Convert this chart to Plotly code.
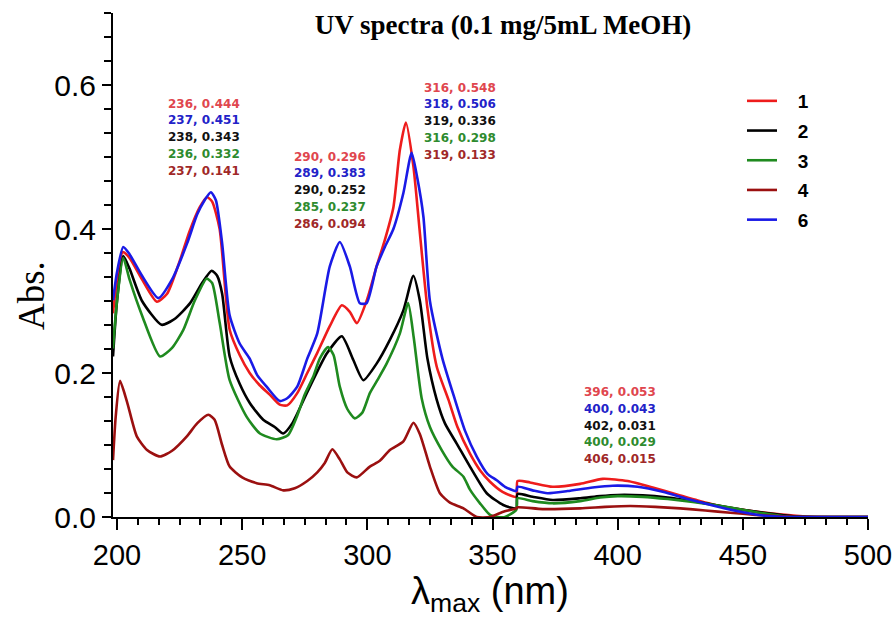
import plotly.graph_objects as go

# ---------------- data ----------------
wl_1 = [198.4, 200, 202.3, 205, 210, 215.9, 220, 225, 229, 233, 236, 238, 241, 245, 249, 253, 257, 261,
        265, 268, 272, 276, 280, 285, 289.8, 293, 295.8, 299.8, 303.7, 307, 310.4, 313, 315.4, 318.4,
        321, 324, 327.7, 332.4, 336, 341, 345, 349, 354, 359.5, 360, 365, 374, 385, 394, 404, 414,
        424, 432, 440, 450, 461, 474, 485, 500]
abs_1 = [0.283, 0.33, 0.368, 0.36, 0.33, 0.299, 0.31, 0.355, 0.397, 0.43, 0.444, 0.438, 0.40, 0.26,
         0.225, 0.2, 0.183, 0.17, 0.156, 0.155, 0.172, 0.2, 0.228, 0.265, 0.294, 0.285, 0.269, 0.301,
         0.348, 0.385, 0.43, 0.51, 0.548, 0.487, 0.394, 0.29, 0.209, 0.163, 0.125, 0.088, 0.065, 0.049,
         0.035, 0.028, 0.05, 0.048, 0.042, 0.046, 0.053, 0.05, 0.041, 0.031, 0.023, 0.016, 0.01, 0.005,
         0.001, 0.0, 0.0]

wl_2 = [198.4, 200, 202.5, 205, 210, 217.8, 223, 229.2, 234, 237.8, 240, 242, 245, 249, 253.1, 258.4,
        263, 266.4, 270, 275.8, 279, 283.8, 289.8, 294.4, 298.4, 303.7, 309, 314.4, 318.4, 321, 324,
        327.7, 331, 335.7, 341, 347.7, 354.3, 359.5, 360, 366, 374, 385, 393, 400, 410, 420, 430, 440,
        450, 460, 470, 480, 500]
abs_2 = [0.223, 0.3, 0.3625, 0.345, 0.3, 0.267, 0.275, 0.297, 0.325, 0.342, 0.335, 0.31, 0.223, 0.185,
         0.158, 0.135, 0.125, 0.116, 0.13, 0.172, 0.195, 0.227, 0.251, 0.218, 0.19, 0.213, 0.246, 0.287,
         0.335, 0.3, 0.22, 0.163, 0.13, 0.102, 0.07, 0.033, 0.0167, 0.012, 0.032, 0.028, 0.0236, 0.026,
         0.029, 0.0306, 0.03, 0.027, 0.022, 0.016, 0.01, 0.005, 0.001, 0.0, 0.0]

wl_3 = [198.4, 200, 202.5, 205, 210, 217.2, 222, 226.5, 231, 235.8, 238, 241, 245, 251.8, 257.1, 263.8,
        268.4, 271.8, 275, 278.4, 281, 284.3, 286.5, 289, 292, 295, 298, 301, 304, 307.7, 313, 316.3,
        318.5, 321.7, 325, 329.7, 334, 338.4, 341, 345, 349, 352, 355, 359.5, 360, 366, 374, 385, 393,
        400, 410, 420, 430, 440, 450, 460, 470, 480, 500]
abs_3 = [0.234, 0.3, 0.36, 0.33, 0.28, 0.223, 0.235, 0.26, 0.3, 0.331, 0.325, 0.27, 0.19, 0.139, 0.116,
         0.108, 0.114, 0.139, 0.17, 0.195, 0.22, 0.236, 0.225, 0.181, 0.15, 0.137, 0.145, 0.172, 0.19,
         0.213, 0.255, 0.297, 0.25, 0.165, 0.125, 0.093, 0.07, 0.056, 0.038, 0.019, 0.003, 0.0, 0.0,
         0.01, 0.026, 0.022, 0.019, 0.022, 0.027, 0.029, 0.028, 0.025, 0.021, 0.016, 0.01, 0.004, 0.0,
         0.0, 0.0]

wl_4 = [198.4, 199.5, 201.2, 204, 207.9, 212, 217.2, 222, 227.9, 232, 236.5, 239, 242, 245, 250, 255.8,
        261, 266.4, 271, 276, 280, 283, 286, 289, 292, 295.8, 301, 305, 309, 314.4, 318.4, 321, 325,
        329, 333, 338.4, 343.7, 349, 354, 359.5, 360, 370, 385, 395, 405, 415, 425, 435, 445, 455, 465,
        475, 500]
abs_4 = [0.079, 0.14, 0.189, 0.16, 0.112, 0.093, 0.084, 0.092, 0.112, 0.13, 0.142, 0.135, 0.1, 0.07,
         0.055, 0.047, 0.044, 0.037, 0.04, 0.05, 0.062, 0.075, 0.094, 0.08, 0.062, 0.055, 0.07, 0.078,
         0.093, 0.105, 0.131, 0.115, 0.07, 0.033, 0.02, 0.012, 0.0, 0.0, 0.007, 0.012, 0.0135, 0.011,
         0.012, 0.014, 0.0153, 0.014, 0.012, 0.009, 0.006, 0.003, 0.001, 0.0, 0.0]

wl_6 = [198.4, 200, 202.5, 205, 210, 216.5, 222, 228, 232, 235, 237.5, 239.5, 242, 245, 249, 253, 256,
        260, 265, 268, 272, 276, 280, 285, 289, 293, 297, 299.7, 303.7, 307, 310.4, 314.4, 317.7, 320,
        322.4, 325, 330, 335, 339, 343.7, 348, 351.7, 355, 359.5, 360, 366, 372, 380, 390, 398, 408,
        418, 428, 438, 448, 458, 468, 480, 500]
abs_6 = [0.301, 0.34, 0.375, 0.365, 0.335, 0.304, 0.33, 0.38, 0.42, 0.44, 0.451, 0.44, 0.38, 0.28,
         0.241, 0.22, 0.197, 0.18, 0.161, 0.165, 0.181, 0.22, 0.255, 0.348, 0.382, 0.348, 0.297, 0.297,
         0.348, 0.375, 0.40, 0.45, 0.506, 0.47, 0.417, 0.30, 0.22, 0.163, 0.12, 0.084, 0.06, 0.051,
         0.042, 0.036, 0.042, 0.037, 0.033, 0.036, 0.041, 0.0435, 0.042, 0.035, 0.025, 0.016, 0.008,
         0.002, 0.0, 0.0, 0.0]

series_names = ["1", "2", "3", "4", "6"]
series_wl = [wl_1, wl_2, wl_3, wl_4, wl_6]
series_abs = [abs_1, abs_2, abs_3, abs_4, abs_6]
line_colors = ["#ee1c1c", "#000000", "#1f8a1f", "#9b1010", "#1a1ae6"]

# peak labels: one list per group, in order 1, 6, 2, 3, 4
label_order_colors = ["#e0464e", "#2222c8", "#111111", "#2e8b2e", "#a02828"]
peak_labels_g1 = ["236, 0.444", "237, 0.451", "238, 0.343", "236, 0.332", "237, 0.141"]
peak_labels_g2 = ["290, 0.296", "289, 0.383", "290, 0.252", "285, 0.237", "286, 0.094"]
peak_labels_g3 = ["316, 0.548", "318, 0.506", "319, 0.336", "316, 0.298", "319, 0.133"]
peak_labels_g4 = ["396, 0.053", "400, 0.043", "402, 0.031", "400, 0.029", "406, 0.015"]

# ---------------- layout geometry ----------------
W, H = 896, 617
L, R, T, B = 113, 28, 13, 100
PW, PH = W - L - R, H - T - B


def px_x(px):
    return (px - L) / PW


def px_y(py):
    return (H - B - py) / PH


fig = go.Figure()
for i, (nm, wl, ab, col) in enumerate(zip(series_names, series_wl, series_abs, line_colors)):
    fig.add_trace(go.Scatter(
        x=wl, y=ab, mode="lines", name="\u00a0\u00a0\u00a0" + nm,
        legendgroup="g" + nm,
        line=dict(color=col, width=2.6, shape="spline", smoothing=0.6),
    ))

annotations = []
groups = [(peak_labels_g1, 204, 103.5), (peak_labels_g2, 330, 156.5),
          (peak_labels_g3, 460, 87.5), (peak_labels_g4, 620, 392)]
for labels, cx, y0 in groups:
    for k, (txt, col) in enumerate(zip(labels, label_order_colors)):
        annotations.append(dict(
            text=txt, xref="paper", yref="paper", x=px_x(cx), y=px_y(y0 + k * 16.8),
            xanchor="center", yanchor="middle", showarrow=False,
            font=dict(family="DejaVu Sans", size=12, color=col, weight="bold"),
        ))

annotations.append(dict(
    text="Abs.", xref="paper", yref="paper", x=px_x(31), y=px_y(296),
    xanchor="center", yanchor="middle", showarrow=False, textangle=-90,
    font=dict(family="Liberation Serif", size=37, color="black"),
))
annotations.append(dict(
    text="\u03bb<sub>max</sub> (nm)", xref="paper", yref="paper", x=px_x(490), y=px_y(594),
    xanchor="center", yanchor="middle", showarrow=False,
    font=dict(family="Liberation Sans", size=38, color="black"),
))

fig.update_layout(
    width=W, height=H,
    margin=dict(l=L, r=R, t=T, b=B, autoexpand=False),
    paper_bgcolor="white", plot_bgcolor="white",
    title=dict(text="<b>UV spectra (0.1 mg/5mL MeOH)</b>", xref="container", yref="container",
               x=503 / W, y=1 - 25 / H, xanchor="center", yanchor="middle",
               font=dict(family="Liberation Serif", size=27, color="black")),
    xaxis=dict(range=[198.4, 500], showline=True, linecolor="black", linewidth=2, mirror=False,
               automargin=False,
               ticks="outside", ticklen=11, tickwidth=2, tickcolor="black", tick0=200, dtick=50,
               minor=dict(ticks="outside", ticklen=6, tickwidth=2, tickcolor="black", dtick=50 / 6),
               showgrid=False, zeroline=False,
               tickfont=dict(family="Liberation Sans", size=29, color="black")),
    yaxis=dict(range=[0, 0.7], showline=True, linecolor="black", linewidth=2, automargin=False,
               ticks="outside", ticklen=9, tickwidth=2, tickcolor="black", tick0=0, dtick=0.2,
               tickformat=".1f",
               minor=dict(ticks="outside", ticklen=7, tickwidth=2, tickcolor="black", dtick=0.2 / 6),
               showgrid=False, zeroline=False,
               tickfont=dict(family="Liberation Sans", size=30, color="black")),
    legend=dict(x=px_x(742), y=px_y(82), xanchor="left", yanchor="top", itemwidth=30,
                tracegroupgap=2, bgcolor="rgba(0,0,0,0)",
                font=dict(family="Liberation Sans", size=19, color="black", weight="bold")),
    annotations=annotations,
    showlegend=True,
)

fig.write_html("out.html", config={"displayModeBar": False},
               post_script="document.body.style.margin='0';document.body.style.padding='0';")
